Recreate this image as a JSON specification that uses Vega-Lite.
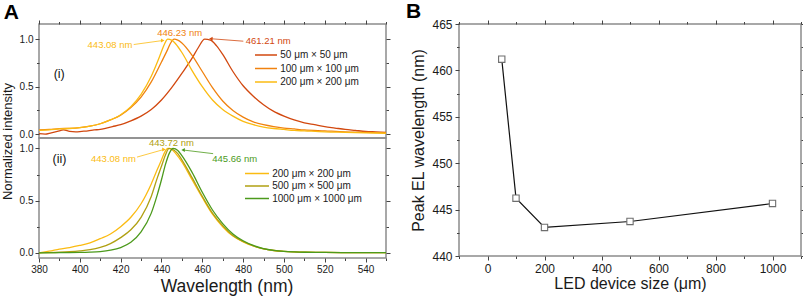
{
  "$schema": "https://vega.github.io/schema/vega-lite/v6.json",
  "padding": {"left": 0, "top": 0, "right": 0, "bottom": 0},
  "background": "white",
  "config": {
    "font": "Liberation Sans",
    "view": {"stroke": "#8c8c8c", "strokeWidth": 1.5},
    "axis": {"domain": false, "grid": false, "tickColor": "#444444", "tickWidth": 1, "labelColor": "#1a1a1a", "titleColor": "#1a1a1a", "labelFont": "Liberation Sans", "titleFont": "Liberation Sans", "titleFontWeight": "normal", "labelFontSize": 10, "labelPadding": 2, "labelOverlap": false, "labelFlush": false},
    "legend": {"labelFont": "Liberation Sans", "labelColor": "#1a1a1a"}
  },
  "datasets": {
    "up": [
      {"s": "50 μm × 50 μm", "wl": 380, "v": 0.005}, {"s": "50 μm × 50 μm", "wl": 383, "v": 0.0}, {"s": "50 μm × 50 μm", "wl": 386, "v": 0.015}, {"s": "50 μm × 50 μm", "wl": 389, "v": 0.03}, {"s": "50 μm × 50 μm", "wl": 392, "v": 0.045}, {"s": "50 μm × 50 μm", "wl": 395, "v": 0.03}, {"s": "50 μm × 50 μm", "wl": 398, "v": 0.025}, {"s": "50 μm × 50 μm", "wl": 401, "v": 0.03}, {"s": "50 μm × 50 μm", "wl": 404, "v": 0.035}, {"s": "50 μm × 50 μm", "wl": 407, "v": 0.045}, {"s": "50 μm × 50 μm", "wl": 410, "v": 0.05}, {"s": "50 μm × 50 μm", "wl": 413, "v": 0.065}, {"s": "50 μm × 50 μm", "wl": 416, "v": 0.08}, {"s": "50 μm × 50 μm", "wl": 420, "v": 0.1}, {"s": "50 μm × 50 μm", "wl": 425, "v": 0.14}, {"s": "50 μm × 50 μm", "wl": 430, "v": 0.19}, {"s": "50 μm × 50 μm", "wl": 435, "v": 0.26}, {"s": "50 μm × 50 μm", "wl": 440, "v": 0.36}, {"s": "50 μm × 50 μm", "wl": 445, "v": 0.49}, {"s": "50 μm × 50 μm", "wl": 450, "v": 0.64}, {"s": "50 μm × 50 μm", "wl": 455, "v": 0.8}, {"s": "50 μm × 50 μm", "wl": 458, "v": 0.91}, {"s": "50 μm × 50 μm", "wl": 461.21, "v": 1.0}, {"s": "50 μm × 50 μm", "wl": 464, "v": 0.99}, {"s": "50 μm × 50 μm", "wl": 467, "v": 0.93}, {"s": "50 μm × 50 μm", "wl": 470, "v": 0.84}, {"s": "50 μm × 50 μm", "wl": 475, "v": 0.66}, {"s": "50 μm × 50 μm", "wl": 480, "v": 0.51}, {"s": "50 μm × 50 μm", "wl": 485, "v": 0.4}, {"s": "50 μm × 50 μm", "wl": 490, "v": 0.31}, {"s": "50 μm × 50 μm", "wl": 495, "v": 0.24}, {"s": "50 μm × 50 μm", "wl": 500, "v": 0.19}, {"s": "50 μm × 50 μm", "wl": 505, "v": 0.15}, {"s": "50 μm × 50 μm", "wl": 510, "v": 0.12}, {"s": "50 μm × 50 μm", "wl": 515, "v": 0.1}, {"s": "50 μm × 50 μm", "wl": 520, "v": 0.08}, {"s": "50 μm × 50 μm", "wl": 525, "v": 0.065}, {"s": "50 μm × 50 μm", "wl": 530, "v": 0.05}, {"s": "50 μm × 50 μm", "wl": 535, "v": 0.04}, {"s": "50 μm × 50 μm", "wl": 540, "v": 0.03}, {"s": "50 μm × 50 μm", "wl": 545, "v": 0.025}, {"s": "50 μm × 50 μm", "wl": 550, "v": 0.02},
      {"s": "100 μm × 100 μm", "wl": 380, "v": 0.045}, {"s": "100 μm × 100 μm", "wl": 385, "v": 0.05}, {"s": "100 μm × 100 μm", "wl": 390, "v": 0.058}, {"s": "100 μm × 100 μm", "wl": 395, "v": 0.062}, {"s": "100 μm × 100 μm", "wl": 400, "v": 0.07}, {"s": "100 μm × 100 μm", "wl": 405, "v": 0.085}, {"s": "100 μm × 100 μm", "wl": 410, "v": 0.11}, {"s": "100 μm × 100 μm", "wl": 415, "v": 0.15}, {"s": "100 μm × 100 μm", "wl": 420, "v": 0.2}, {"s": "100 μm × 100 μm", "wl": 425, "v": 0.28}, {"s": "100 μm × 100 μm", "wl": 430, "v": 0.39}, {"s": "100 μm × 100 μm", "wl": 435, "v": 0.55}, {"s": "100 μm × 100 μm", "wl": 440, "v": 0.76}, {"s": "100 μm × 100 μm", "wl": 443, "v": 0.89}, {"s": "100 μm × 100 μm", "wl": 444.5, "v": 0.96}, {"s": "100 μm × 100 μm", "wl": 446.23, "v": 1.0}, {"s": "100 μm × 100 μm", "wl": 448, "v": 0.99}, {"s": "100 μm × 100 μm", "wl": 450, "v": 0.96}, {"s": "100 μm × 100 μm", "wl": 455, "v": 0.83}, {"s": "100 μm × 100 μm", "wl": 460, "v": 0.66}, {"s": "100 μm × 100 μm", "wl": 465, "v": 0.49}, {"s": "100 μm × 100 μm", "wl": 470, "v": 0.35}, {"s": "100 μm × 100 μm", "wl": 475, "v": 0.25}, {"s": "100 μm × 100 μm", "wl": 480, "v": 0.18}, {"s": "100 μm × 100 μm", "wl": 485, "v": 0.13}, {"s": "100 μm × 100 μm", "wl": 490, "v": 0.1}, {"s": "100 μm × 100 μm", "wl": 495, "v": 0.08}, {"s": "100 μm × 100 μm", "wl": 500, "v": 0.065}, {"s": "100 μm × 100 μm", "wl": 505, "v": 0.055}, {"s": "100 μm × 100 μm", "wl": 510, "v": 0.045}, {"s": "100 μm × 100 μm", "wl": 520, "v": 0.035}, {"s": "100 μm × 100 μm", "wl": 530, "v": 0.025}, {"s": "100 μm × 100 μm", "wl": 540, "v": 0.02}, {"s": "100 μm × 100 μm", "wl": 550, "v": 0.015},
      {"s": "200 μm × 200 μm", "wl": 380, "v": 0.04}, {"s": "200 μm × 200 μm", "wl": 385, "v": 0.045}, {"s": "200 μm × 200 μm", "wl": 390, "v": 0.055}, {"s": "200 μm × 200 μm", "wl": 395, "v": 0.06}, {"s": "200 μm × 200 μm", "wl": 400, "v": 0.07}, {"s": "200 μm × 200 μm", "wl": 405, "v": 0.085}, {"s": "200 μm × 200 μm", "wl": 410, "v": 0.11}, {"s": "200 μm × 200 μm", "wl": 415, "v": 0.15}, {"s": "200 μm × 200 μm", "wl": 420, "v": 0.205}, {"s": "200 μm × 200 μm", "wl": 425, "v": 0.29}, {"s": "200 μm × 200 μm", "wl": 430, "v": 0.42}, {"s": "200 μm × 200 μm", "wl": 435, "v": 0.61}, {"s": "200 μm × 200 μm", "wl": 438, "v": 0.76}, {"s": "200 μm × 200 μm", "wl": 440, "v": 0.87}, {"s": "200 μm × 200 μm", "wl": 441.5, "v": 0.95}, {"s": "200 μm × 200 μm", "wl": 443.08, "v": 1.0}, {"s": "200 μm × 200 μm", "wl": 445, "v": 0.99}, {"s": "200 μm × 200 μm", "wl": 447, "v": 0.95}, {"s": "200 μm × 200 μm", "wl": 450, "v": 0.86}, {"s": "200 μm × 200 μm", "wl": 455, "v": 0.67}, {"s": "200 μm × 200 μm", "wl": 460, "v": 0.5}, {"s": "200 μm × 200 μm", "wl": 465, "v": 0.36}, {"s": "200 μm × 200 μm", "wl": 470, "v": 0.26}, {"s": "200 μm × 200 μm", "wl": 475, "v": 0.19}, {"s": "200 μm × 200 μm", "wl": 480, "v": 0.135}, {"s": "200 μm × 200 μm", "wl": 485, "v": 0.1}, {"s": "200 μm × 200 μm", "wl": 490, "v": 0.075}, {"s": "200 μm × 200 μm", "wl": 495, "v": 0.06}, {"s": "200 μm × 200 μm", "wl": 500, "v": 0.05}, {"s": "200 μm × 200 μm", "wl": 505, "v": 0.04}, {"s": "200 μm × 200 μm", "wl": 510, "v": 0.035}, {"s": "200 μm × 200 μm", "wl": 520, "v": 0.025}, {"s": "200 μm × 200 μm", "wl": 530, "v": 0.02}, {"s": "200 μm × 200 μm", "wl": 540, "v": 0.015}, {"s": "200 μm × 200 μm", "wl": 550, "v": 0.01}
    ],
    "lo": [
      {"s": "200 μm × 200 μm", "wl": 380, "v": 0.0}, {"s": "200 μm × 200 μm", "wl": 385, "v": 0.015}, {"s": "200 μm × 200 μm", "wl": 390, "v": 0.035}, {"s": "200 μm × 200 μm", "wl": 395, "v": 0.05}, {"s": "200 μm × 200 μm", "wl": 400, "v": 0.07}, {"s": "200 μm × 200 μm", "wl": 405, "v": 0.095}, {"s": "200 μm × 200 μm", "wl": 410, "v": 0.135}, {"s": "200 μm × 200 μm", "wl": 415, "v": 0.18}, {"s": "200 μm × 200 μm", "wl": 420, "v": 0.25}, {"s": "200 μm × 200 μm", "wl": 425, "v": 0.34}, {"s": "200 μm × 200 μm", "wl": 430, "v": 0.47}, {"s": "200 μm × 200 μm", "wl": 435, "v": 0.66}, {"s": "200 μm × 200 μm", "wl": 438, "v": 0.8}, {"s": "200 μm × 200 μm", "wl": 440, "v": 0.89}, {"s": "200 μm × 200 μm", "wl": 441.5, "v": 0.96}, {"s": "200 μm × 200 μm", "wl": 443.08, "v": 1.0}, {"s": "200 μm × 200 μm", "wl": 445, "v": 0.99}, {"s": "200 μm × 200 μm", "wl": 447, "v": 0.95}, {"s": "200 μm × 200 μm", "wl": 450, "v": 0.87}, {"s": "200 μm × 200 μm", "wl": 455, "v": 0.7}, {"s": "200 μm × 200 μm", "wl": 460, "v": 0.53}, {"s": "200 μm × 200 μm", "wl": 465, "v": 0.37}, {"s": "200 μm × 200 μm", "wl": 470, "v": 0.25}, {"s": "200 μm × 200 μm", "wl": 475, "v": 0.16}, {"s": "200 μm × 200 μm", "wl": 480, "v": 0.105}, {"s": "200 μm × 200 μm", "wl": 485, "v": 0.065}, {"s": "200 μm × 200 μm", "wl": 490, "v": 0.038}, {"s": "200 μm × 200 μm", "wl": 495, "v": 0.022}, {"s": "200 μm × 200 μm", "wl": 500, "v": 0.013}, {"s": "200 μm × 200 μm", "wl": 505, "v": 0.008}, {"s": "200 μm × 200 μm", "wl": 510, "v": 0.005}, {"s": "200 μm × 200 μm", "wl": 520, "v": 0.003}, {"s": "200 μm × 200 μm", "wl": 535, "v": 0.002}, {"s": "200 μm × 200 μm", "wl": 550, "v": 0.002},
      {"s": "500 μm × 500 μm", "wl": 380, "v": 0.0}, {"s": "500 μm × 500 μm", "wl": 385, "v": 0.002}, {"s": "500 μm × 500 μm", "wl": 390, "v": 0.005}, {"s": "500 μm × 500 μm", "wl": 395, "v": 0.01}, {"s": "500 μm × 500 μm", "wl": 400, "v": 0.018}, {"s": "500 μm × 500 μm", "wl": 405, "v": 0.03}, {"s": "500 μm × 500 μm", "wl": 410, "v": 0.052}, {"s": "500 μm × 500 μm", "wl": 415, "v": 0.088}, {"s": "500 μm × 500 μm", "wl": 420, "v": 0.145}, {"s": "500 μm × 500 μm", "wl": 425, "v": 0.22}, {"s": "500 μm × 500 μm", "wl": 430, "v": 0.34}, {"s": "500 μm × 500 μm", "wl": 435, "v": 0.54}, {"s": "500 μm × 500 μm", "wl": 438, "v": 0.72}, {"s": "500 μm × 500 μm", "wl": 440, "v": 0.83}, {"s": "500 μm × 500 μm", "wl": 442, "v": 0.94}, {"s": "500 μm × 500 μm", "wl": 443.72, "v": 1.0}, {"s": "500 μm × 500 μm", "wl": 446, "v": 0.985}, {"s": "500 μm × 500 μm", "wl": 448, "v": 0.95}, {"s": "500 μm × 500 μm", "wl": 450, "v": 0.89}, {"s": "500 μm × 500 μm", "wl": 455, "v": 0.72}, {"s": "500 μm × 500 μm", "wl": 460, "v": 0.54}, {"s": "500 μm × 500 μm", "wl": 465, "v": 0.38}, {"s": "500 μm × 500 μm", "wl": 470, "v": 0.26}, {"s": "500 μm × 500 μm", "wl": 475, "v": 0.165}, {"s": "500 μm × 500 μm", "wl": 480, "v": 0.108}, {"s": "500 μm × 500 μm", "wl": 485, "v": 0.066}, {"s": "500 μm × 500 μm", "wl": 490, "v": 0.038}, {"s": "500 μm × 500 μm", "wl": 495, "v": 0.022}, {"s": "500 μm × 500 μm", "wl": 500, "v": 0.013}, {"s": "500 μm × 500 μm", "wl": 505, "v": 0.008}, {"s": "500 μm × 500 μm", "wl": 510, "v": 0.005}, {"s": "500 μm × 500 μm", "wl": 520, "v": 0.003}, {"s": "500 μm × 500 μm", "wl": 535, "v": 0.002}, {"s": "500 μm × 500 μm", "wl": 550, "v": 0.002},
      {"s": "1000 μm × 1000 μm", "wl": 380, "v": 0.0}, {"s": "1000 μm × 1000 μm", "wl": 390, "v": 0.001}, {"s": "1000 μm × 1000 μm", "wl": 400, "v": 0.003}, {"s": "1000 μm × 1000 μm", "wl": 405, "v": 0.006}, {"s": "1000 μm × 1000 μm", "wl": 410, "v": 0.012}, {"s": "1000 μm × 1000 μm", "wl": 415, "v": 0.025}, {"s": "1000 μm × 1000 μm", "wl": 420, "v": 0.05}, {"s": "1000 μm × 1000 μm", "wl": 425, "v": 0.1}, {"s": "1000 μm × 1000 μm", "wl": 430, "v": 0.2}, {"s": "1000 μm × 1000 μm", "wl": 435, "v": 0.38}, {"s": "1000 μm × 1000 μm", "wl": 438, "v": 0.56}, {"s": "1000 μm × 1000 μm", "wl": 440, "v": 0.7}, {"s": "1000 μm × 1000 μm", "wl": 442, "v": 0.85}, {"s": "1000 μm × 1000 μm", "wl": 444, "v": 0.96}, {"s": "1000 μm × 1000 μm", "wl": 445.66, "v": 1.0}, {"s": "1000 μm × 1000 μm", "wl": 448, "v": 0.98}, {"s": "1000 μm × 1000 μm", "wl": 450, "v": 0.93}, {"s": "1000 μm × 1000 μm", "wl": 455, "v": 0.77}, {"s": "1000 μm × 1000 μm", "wl": 460, "v": 0.58}, {"s": "1000 μm × 1000 μm", "wl": 465, "v": 0.41}, {"s": "1000 μm × 1000 μm", "wl": 470, "v": 0.28}, {"s": "1000 μm × 1000 μm", "wl": 475, "v": 0.18}, {"s": "1000 μm × 1000 μm", "wl": 480, "v": 0.115}, {"s": "1000 μm × 1000 μm", "wl": 485, "v": 0.07}, {"s": "1000 μm × 1000 μm", "wl": 490, "v": 0.04}, {"s": "1000 μm × 1000 μm", "wl": 495, "v": 0.023}, {"s": "1000 μm × 1000 μm", "wl": 500, "v": 0.013}, {"s": "1000 μm × 1000 μm", "wl": 505, "v": 0.008}, {"s": "1000 μm × 1000 μm", "wl": 510, "v": 0.005}, {"s": "1000 μm × 1000 μm", "wl": 520, "v": 0.003}, {"s": "1000 μm × 1000 μm", "wl": 535, "v": 0.002}, {"s": "1000 μm × 1000 μm", "wl": 550, "v": 0.002}
    ],
    "upAnn": [
      {"s": "200 μm × 200 μm", "t": "443.08 nm", "x": 414.8, "y": 0.937},
      {"s": "100 μm × 100 μm", "t": "446.23 nm", "x": 448.9, "y": 1.065},
      {"s": "50 μm × 50 μm", "t": "461.21 nm", "x": 492.3, "y": 0.98}
    ],
    "upArr": [
      {"s": "200 μm × 200 μm", "x": 426.4, "y": 0.944, "x2": 440.6, "y2": 0.986, "dir": "right"},
      {"s": "50 μm × 50 μm", "x": 480.1, "y": 0.979, "x2": 464.2, "y2": 1.005, "dir": "left"}
    ],
    "loAnn": [
      {"s": "200 μm × 200 μm", "t": "443.08 nm", "x": 416.5, "y": 0.894},
      {"s": "500 μm × 500 μm", "t": "443.72 nm", "x": 444.9, "y": 1.055},
      {"s": "1000 μm × 1000 μm", "t": "445.66 nm", "x": 475.9, "y": 0.9}
    ],
    "loArr": [
      {"s": "200 μm × 200 μm", "x": 428.0, "y": 0.917, "x2": 441.2, "y2": 0.99, "dir": "right"},
      {"s": "1000 μm × 1000 μm", "x": 465.3, "y": 0.95, "x2": 450.6, "y2": 0.985, "dir": "left"}
    ],
    "upLab": [{"t": "(i)", "x": 389.9, "y": 0.635}],
    "loLab": [{"t": "(ii)", "x": 390.0, "y": 0.9}],
    "aLab": [{"t": "A", "x": 366.4, "y": 1.281}],
    "b": [
      {"size": 50, "peak": 461.21},
      {"size": 100, "peak": 446.23},
      {"size": 200, "peak": 443.08},
      {"size": 500, "peak": 443.72},
      {"size": 1000, "peak": 445.66}
    ],
    "bLab": [{"t": "B", "x": -259.6, "y": 466.24}]
  },
  "spacing": 13,
  "resolve": {"scale": {"color": "independent", "shape": "independent"}, "legend": {"color": "independent", "shape": "independent"}},
  "hconcat": [
    {
      "vconcat": [
        {
          "width": 347,
          "height": 114,
          "layer": [
            {
              "data": {"name": "up"},
              "mark": {"type": "line", "strokeWidth": 1.3, "interpolate": "monotone"},
              "encoding": {
                "x": {"field": "wl", "type": "quantitative", "scale": {"domain": [380, 550], "nice": false, "zero": false},
                  "axis": {"orient": "top", "title": null, "labels": false, "values": [380, 390, 400, 410, 420, 430, 440, 450, 460, 470, 480, 490, 500, 510, 520, 530, 540, 550], "tickSize": {"condition": {"test": "datum.value % 20 === 0", "value": 4}, "value": 2.5}}},
                "y": {"field": "v", "type": "quantitative", "scale": {"domain": [-0.04, 1.16], "nice": false, "zero": false},
                  "axis": {"orient": "left", "title": "Normalized intensity", "titleFontSize": 13, "titleY": 117, "titlePadding": 5, "values": [0, 0.25, 0.5, 0.75, 1], "format": ".1f", "labelExpr": "datum.value % 0.5 === 0 ? datum.label : ''", "tickSize": {"condition": {"test": "datum.value % 0.5 === 0", "value": 4}, "value": 2.5}}},
                "color": {"field": "s", "type": "nominal",
                  "scale": {"domain": ["50 μm × 50 μm", "100 μm × 100 μm", "200 μm × 200 μm"], "range": ["#d2480f", "#f0820f", "#fbbb12"]},
                  "legend": {"orient": "none", "legendX": 221, "legendY": 25, "title": null, "direction": "vertical", "symbolType": "M-2.2,0H2.2", "symbolSize": 100, "symbolStrokeWidth": 1.5, "labelFontSize": 10, "labelOffset": 8.25, "rowPadding": 2.5}}
              }
            },
            {
              "data": {"name": "upAnn"},
              "mark": {"type": "text", "fontSize": 9.5},
              "encoding": {
                "x": {"field": "x", "type": "quantitative", "axis": null},
                "y": {"field": "y", "type": "quantitative", "axis": {"orient": "right", "title": null, "labels": false, "values": [0, 0.25, 0.5, 0.75, 1], "tickSize": {"condition": {"test": "datum.value % 0.5 === 0", "value": 4}, "value": 2.5}}},
                "text": {"field": "t"},
                "color": {"field": "s", "type": "nominal", "legend": null}
              }
            },
            {
              "data": {"name": "upArr"},
              "mark": {"type": "rule", "strokeWidth": 0.8},
              "encoding": {
                "x": {"field": "x", "type": "quantitative", "axis": null},
                "y": {"field": "y", "type": "quantitative", "axis": null},
                "x2": {"field": "x2"},
                "y2": {"field": "y2"},
                "color": {"field": "s", "type": "nominal", "legend": null}
              }
            },
            {
              "data": {"name": "upArr"},
              "mark": {"type": "point", "filled": true, "size": 16, "opacity": 1},
              "encoding": {
                "x": {"field": "x2", "type": "quantitative", "axis": null},
                "y": {"field": "y2", "type": "quantitative", "axis": null},
                "shape": {"field": "dir", "type": "nominal", "scale": {"domain": ["right", "left"], "range": ["triangle-right", "triangle-left"]}, "legend": null},
                "color": {"field": "s", "type": "nominal", "legend": null}
              }
            },
            {
              "data": {"name": "upLab"},
              "mark": {"type": "text", "fontSize": 12.5, "color": "#111111"},
              "encoding": {
                "x": {"field": "x", "type": "quantitative", "axis": null},
                "y": {"field": "y", "type": "quantitative", "axis": null},
                "text": {"field": "t"}
              }
            },
            {
              "data": {"name": "aLab"},
              "mark": {"type": "text", "fontSize": 21, "fontWeight": "bold", "color": "#000000"},
              "encoding": {
                "x": {"field": "x", "type": "quantitative", "axis": null},
                "y": {"field": "y", "type": "quantitative", "axis": null},
                "text": {"field": "t"}
              }
            }
          ],
          "resolve": {"axis": {"x": "independent", "y": "independent"}}
        },
        {
          "width": 347,
          "height": 120,
          "layer": [
            {
              "data": {"name": "lo"},
              "mark": {"type": "line", "strokeWidth": 1.3, "interpolate": "monotone"},
              "encoding": {
                "x": {"field": "wl", "type": "quantitative", "scale": {"domain": [380, 550], "nice": false, "zero": false},
                  "axis": {"orient": "bottom", "title": "Wavelength (nm)", "titleFontSize": 17.5, "titlePadding": 3, "titleX": 187.5, "format": "d", "values": [380, 390, 400, 410, 420, 430, 440, 450, 460, 470, 480, 490, 500, 510, 520, 530, 540, 550], "labelExpr": "datum.value % 20 === 0 ? datum.label : ''", "tickSize": {"condition": {"test": "datum.value % 20 === 0", "value": 4}, "value": 2.5}}},
                "y": {"field": "v", "type": "quantitative", "scale": {"domain": [-0.05, 1.1], "nice": false, "zero": false},
                  "axis": {"orient": "left", "title": null, "values": [0, 0.25, 0.5, 0.75, 1], "format": ".1f", "labelExpr": "datum.value % 0.5 === 0 ? datum.label : ''", "tickSize": {"condition": {"test": "datum.value % 0.5 === 0", "value": 4}, "value": 2.5}}},
                "color": {"field": "s", "type": "nominal",
                  "scale": {"domain": ["200 μm × 200 μm", "500 μm × 500 μm", "1000 μm × 1000 μm"], "range": ["#fbbb12", "#b0a012", "#4c9a1c"]},
                  "legend": {"orient": "none", "legendX": 212, "legendY": 29.5, "title": null, "direction": "vertical", "symbolType": "M-2.4,0H2.4", "symbolSize": 100, "symbolStrokeWidth": 1.5, "labelFontSize": 10, "labelOffset": 9.25, "rowPadding": 1.5}}
              }
            },
            {
              "data": {"name": "loAnn"},
              "mark": {"type": "text", "fontSize": 9.5},
              "encoding": {
                "x": {"field": "x", "type": "quantitative", "axis": null},
                "y": {"field": "y", "type": "quantitative", "axis": {"orient": "right", "title": null, "labels": false, "values": [0, 0.25, 0.5, 0.75, 1], "tickSize": {"condition": {"test": "datum.value % 0.5 === 0", "value": 4}, "value": 2.5}}},
                "text": {"field": "t"},
                "color": {"field": "s", "type": "nominal", "legend": null}
              }
            },
            {
              "data": {"name": "loArr"},
              "mark": {"type": "rule", "strokeWidth": 0.8},
              "encoding": {
                "x": {"field": "x", "type": "quantitative", "axis": null},
                "y": {"field": "y", "type": "quantitative", "axis": null},
                "x2": {"field": "x2"},
                "y2": {"field": "y2"},
                "color": {"field": "s", "type": "nominal", "legend": null}
              }
            },
            {
              "data": {"name": "loArr"},
              "mark": {"type": "point", "filled": true, "size": 16, "opacity": 1},
              "encoding": {
                "x": {"field": "x2", "type": "quantitative", "axis": null},
                "y": {"field": "y2", "type": "quantitative", "axis": null},
                "shape": {"field": "dir", "type": "nominal", "scale": {"domain": ["right", "left"], "range": ["triangle-right", "triangle-left"]}, "legend": null},
                "color": {"field": "s", "type": "nominal", "legend": null}
              }
            },
            {
              "data": {"name": "loLab"},
              "mark": {"type": "text", "fontSize": 12.5, "color": "#111111"},
              "encoding": {
                "x": {"field": "x", "type": "quantitative", "axis": null},
                "y": {"field": "y", "type": "quantitative", "axis": null},
                "text": {"field": "t"}
              }
            }
          ],
          "resolve": {"axis": {"x": "independent", "y": "independent"}}
        }
      ],
      "spacing": 0,
      "bounds": "flush",
      "resolve": {"scale": {"x": "independent", "color": "independent", "shape": "independent"}, "axis": {"x": "independent"}, "legend": {"color": "independent", "shape": "independent"}}
    },
    {
      "width": 342,
      "height": 232,
      "layer": [
        {
          "data": {"name": "b"},
          "mark": {"type": "line", "color": "#111111", "strokeWidth": 1.2},
          "encoding": {
            "x": {"field": "size", "type": "quantitative", "scale": {"domain": [-100, 1100], "nice": false, "zero": false},
              "axis": {"orient": "bottom", "title": "LED device size (μm)", "titleFontSize": 16, "titlePadding": 1, "labelFontSize": 12, "labelPadding": 3, "format": "d", "values": [-100, 0, 100, 200, 300, 400, 500, 600, 700, 800, 900, 1000, 1100], "labelExpr": "datum.value % 200 === 0 ? datum.label : ''", "tickSize": {"condition": {"test": "datum.value % 200 === 0", "value": 4}, "value": 2.5}}},
            "y": {"field": "peak", "type": "quantitative", "scale": {"domain": [440, 465], "nice": false, "zero": false},
              "axis": {"orient": "left", "title": "Peak EL wavelength (nm)", "titleFontSize": 16, "titlePadding": 5, "labelFontSize": 12, "labelPadding": 3, "format": "d", "values": [440, 442.5, 445, 447.5, 450, 452.5, 455, 457.5, 460, 462.5, 465], "labelExpr": "datum.value % 5 === 0 ? datum.label : ''", "tickSize": {"condition": {"test": "datum.value % 5 === 0", "value": 4}, "value": 2.5}}}
          }
        },
        {
          "data": {"name": "b"},
          "mark": {"type": "square", "size": 40, "fill": "white", "stroke": "#6e6e6e", "strokeWidth": 1.1, "opacity": 1},
          "encoding": {
            "x": {"field": "size", "type": "quantitative", "axis": {"orient": "top", "title": null, "labels": false, "values": [-100, 0, 100, 200, 300, 400, 500, 600, 700, 800, 900, 1000, 1100], "tickSize": {"condition": {"test": "datum.value % 200 === 0", "value": 4}, "value": 2.5}}},
            "y": {"field": "peak", "type": "quantitative", "axis": {"orient": "right", "title": null, "labels": false, "values": [440, 442.5, 445, 447.5, 450, 452.5, 455, 457.5, 460, 462.5, 465], "tickSize": {"condition": {"test": "datum.value % 5 === 0", "value": 4}, "value": 2.5}}}
          }
        },
        {
          "data": {"name": "bLab"},
          "mark": {"type": "text", "fontSize": 21, "fontWeight": "bold", "color": "#000000"},
          "encoding": {
            "x": {"field": "x", "type": "quantitative", "axis": null},
            "y": {"field": "y", "type": "quantitative", "axis": null},
            "text": {"field": "t"}
          }
        }
      ],
      "resolve": {"axis": {"x": "independent", "y": "independent"}}
    }
  ]
}
